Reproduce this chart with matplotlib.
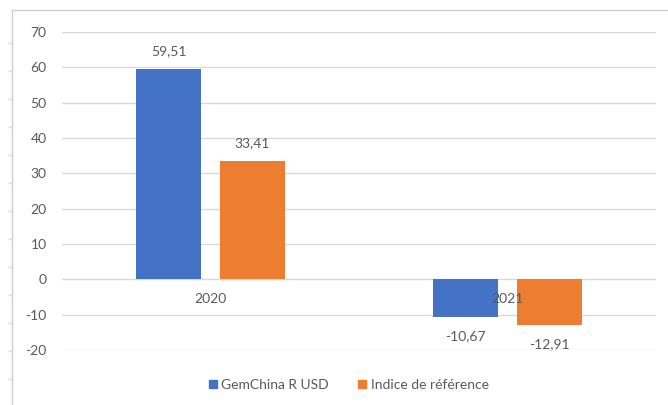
import matplotlib.pyplot as plt
from matplotlib.lines import Line2D
import numpy as np

plt.rcParams['font.family'] = ['Lato', 'DejaVu Sans']

years = ['2020', '2021']
fund = [59.51, -10.67]
index = [33.41, -12.91]
series_names = ['GemChina R USD', 'Indice de référence']
yticks = [-20, -10, 0, 10, 20, 30, 40, 50, 60, 70]

blue = '#4472C4'
orange = '#ED7D31'
text_col = '#595959'
grid_col = '#D9D9D9'

W, H = 668, 405
fig = plt.figure(figsize=(W / 100, H / 100), dpi=100)
ax = fig.add_axes([62 / W, 1 - 350 / H, (656 - 62) / W, (350 - 32) / H])

x = np.arange(len(years))
w = 0.22
off = 0.141
b1 = ax.bar(x - off, fund, w, color=blue, zorder=3)
b2 = ax.bar(x + off, index, w, color=orange, zorder=3)

# value labels, comma as decimal separator
for bars, vals in [(b1, fund), (b2, index)]:
    for bar, v in zip(bars, vals):
        cx = bar.get_x() + bar.get_width() / 2
        txt = f'{v:.2f}'.replace('.', ',')
        dy = 13 if v >= 0 else -14
        ax.annotate(txt, (cx, v), xytext=(0, dy), textcoords='offset points',
                    ha='center', va='center', fontsize=10, color=text_col)

# category labels sit just below the zero line
for xi, yr in zip(x, years):
    ax.annotate(yr, (xi, 0), xytext=(0, -14), textcoords='offset points',
                ha='center', va='center', fontsize=10, color=text_col, zorder=5)

ax.set_xlim(-0.5, 1.5)
ax.set_ylim(-20, 70)
ax.set_yticks(yticks)
ax.set_yticklabels([str(t) for t in yticks])
ax.set_xticks([])
ax.tick_params(axis='y', length=0, pad=11, labelsize=10, labelcolor=text_col)
ax.grid(axis='y', color=grid_col, lw=1, zorder=0)
for s in ax.spines.values():
    s.set_visible(False)

handles = [Line2D([], [], marker='s', ls='none', color=c, markersize=6)
           for c in (blue, orange)]
fig.legend(handles, series_names, loc='center', bbox_to_anchor=(348 / W, 1 - 385 / H),
           ncol=2, frameon=False, fontsize=10, handletextpad=0.2, columnspacing=2.0,
           labelcolor=text_col, handlelength=0.8)

# outer chart frame (left and top edges)
fig.add_artist(Line2D([12 / W, 12 / W], [0, 1 - 10 / H], color='#D0D0D0', lw=1))
fig.add_artist(Line2D([12 / W, 1], [1 - 10 / H, 1 - 10 / H], color='#D0D0D0', lw=1))
for yy in range(43, 405, 28):
    fig.add_artist(Line2D([9 / W, 12 / W], [1 - yy / H, 1 - yy / H], color='#D8D8D8', lw=1))

fig.savefig('out.png', dpi=100)
